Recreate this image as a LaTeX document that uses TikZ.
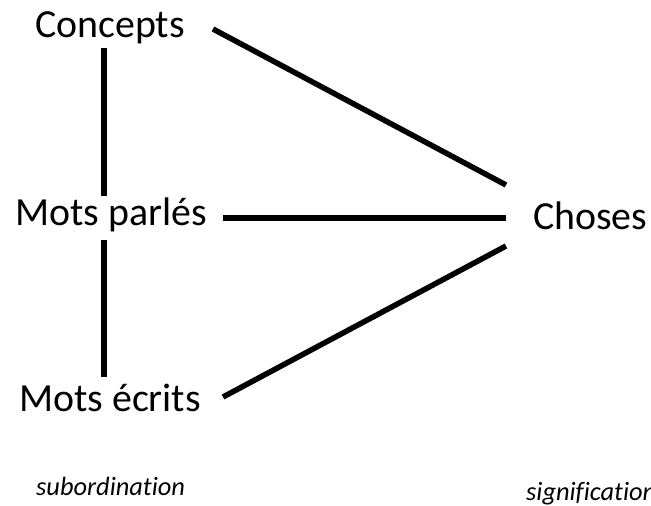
\documentclass[tikz,border=0pt]{standalone}
\usepackage{fontspec}
\setmainfont{Carlito}[Ligatures=NoCommon]
\begin{document}
\begin{tikzpicture}[x=1bp,y=-1bp,
  lbl/.style={anchor=base west,inner sep=0pt,font=\fontsize{40}{44}\selectfont},
  note/.style={anchor=base west,inner sep=0pt,font=\fontsize{26.5}{30}\selectfont\itshape},
  link/.style={line width=5.5bp,black}]
\useasboundingbox (0,0) rectangle (651,506);
\node[lbl] (concepts) at (35,38) {Concepts};
\node[lbl] (parles) at (15,226) {Mots parlés};
\node[lbl] (ecrits) at (19,411) {Mots écrits};
\node[lbl] (choses) at (533,230) {Choses};
\node[note] (sub) at (36,495) {subordination};
\node[note] (sig) at (526,500) {signification};
% connector ends
\coordinate (cS) at (104,48);
\coordinate (cE) at (213,29);
\coordinate (pN) at (104,196);
\coordinate (pS) at (104,240);
\coordinate (pE) at (223,218);
\coordinate (eN) at (104,377);
\coordinate (eE) at (223,397);
\coordinate (hNW) at (506,185);
\coordinate (hW) at (506,218);
\coordinate (hSW) at (506,246);
\draw[link] (cS) -- (pN);
\draw[link] (pS) -- (eN);
\draw[link] (cE) -- (hNW);
\draw[link] (pE) -- (hW);
\draw[link] (eE) -- (hSW);
\end{tikzpicture}
\end{document}
